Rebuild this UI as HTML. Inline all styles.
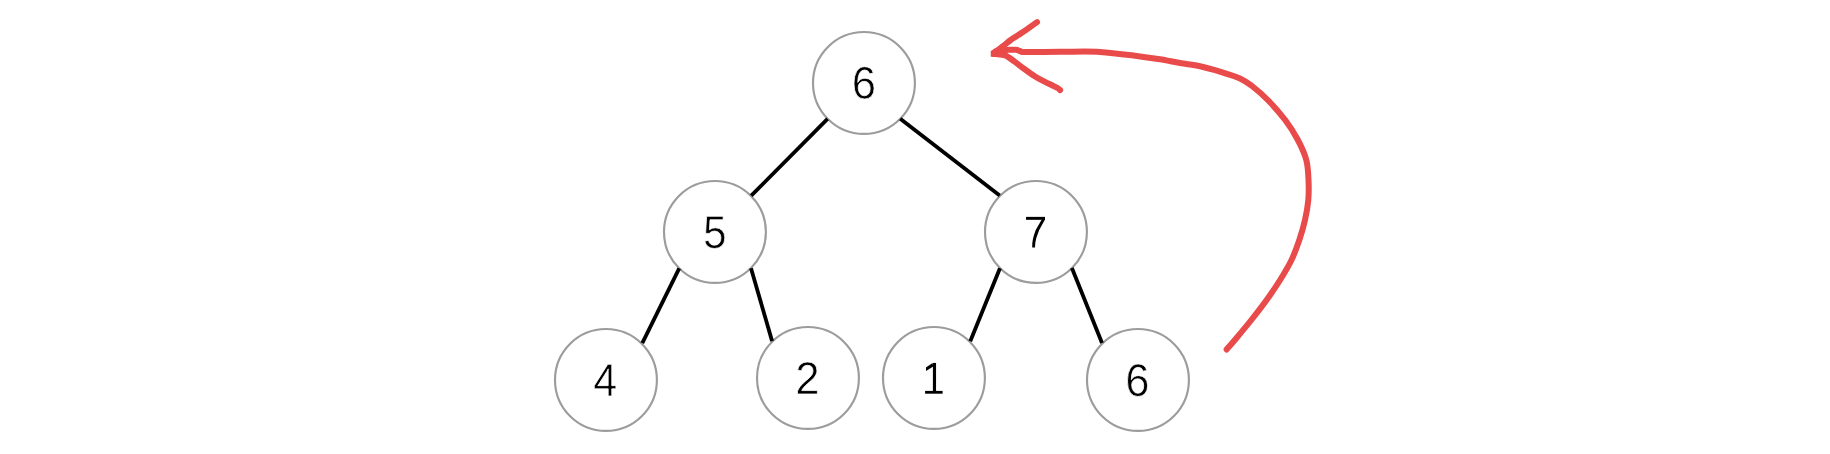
<!DOCTYPE html>
<html><head><meta charset="utf-8"><style>
html,body{margin:0;padding:0;background:#fff;width:1830px;height:454px;overflow:hidden}
svg{display:block}
text{font-family:"Liberation Sans",sans-serif;fill:#000}
</style></head><body>
<svg width="1830" height="454" viewBox="0 0 1830 454">
<circle cx="863.95" cy="82.95" r="50.95" fill="#fff" stroke="#9c9c9c" stroke-width="2.15"/>
<path transform="matrix(0.021270,0,0,-0.022276,851.788,98.554)" d="M1049 461Q1049 238 928.0 109.0Q807 -20 594 -20Q356 -20 230.0 157.0Q104 334 104 672Q104 1038 235.0 1234.0Q366 1430 608 1430Q927 1430 1010 1143L838 1112Q785 1284 606 1284Q452 1284 367.5 1140.5Q283 997 283 725Q332 816 421.0 863.5Q510 911 625 911Q820 911 934.5 789.0Q1049 667 1049 461ZM866 453Q866 606 791.0 689.0Q716 772 582 772Q456 772 378.5 698.5Q301 625 301 496Q301 333 381.5 229.0Q462 125 588 125Q718 125 792.0 212.5Q866 300 866 453Z" fill="#000" stroke="#fff" stroke-width="0.80" vector-effect="non-scaling-stroke"/>
<circle cx="714.95" cy="231.95" r="50.95" fill="#fff" stroke="#9c9c9c" stroke-width="2.15"/>
<path transform="matrix(0.020597,0,0,-0.022533,703.111,248.049)" d="M1053 459Q1053 236 920.5 108.0Q788 -20 553 -20Q356 -20 235.0 66.0Q114 152 82 315L264 336Q321 127 557 127Q702 127 784.0 214.5Q866 302 866 455Q866 588 783.5 670.0Q701 752 561 752Q488 752 425.0 729.0Q362 706 299 651H123L170 1409H971V1256H334L307 809Q424 899 598 899Q806 899 929.5 777.0Q1053 655 1053 459Z" fill="#000" stroke="#fff" stroke-width="0.80" vector-effect="non-scaling-stroke"/>
<circle cx="1035.95" cy="231.95" r="50.95" fill="#fff" stroke="#9c9c9c" stroke-width="2.15"/>
<rect x="1026.05" y="216.88" width="18.95" height="2.95" fill="#000"/><polygon points="1045,216.88 1045,219.6 1039.2,230 1037.2,235.5 1036.1,238.8 1035.3,243 1035,247.6 1032.2,247.6 1032.3,243 1033,238.8 1034,235 1035.7,230 1041.6,219.8" fill="#000"/>
<circle cx="605.95" cy="379.95" r="50.95" fill="#fff" stroke="#9c9c9c" stroke-width="2.15"/>
<path transform="matrix(0.020930,0,0,-0.022498,593.316,396.000)" d="M881 319V0H711V319H47V459L692 1409H881V461H1079V319ZM711 1206Q709 1200 683.0 1153.0Q657 1106 644 1087L283 555L229 481L213 461H711Z" fill="#000" stroke="#fff" stroke-width="0.80" vector-effect="non-scaling-stroke"/>
<circle cx="807.95" cy="377.95" r="50.95" fill="#fff" stroke="#9c9c9c" stroke-width="2.15"/>
<path transform="matrix(0.021329,0,0,-0.022378,795.303,394.000)" d="M103 0V127Q154 244 227.5 333.5Q301 423 382.0 495.5Q463 568 542.5 630.0Q622 692 686.0 754.0Q750 816 789.5 884.0Q829 952 829 1038Q829 1154 761.0 1218.0Q693 1282 572 1282Q457 1282 382.5 1219.5Q308 1157 295 1044L111 1061Q131 1230 254.5 1330.0Q378 1430 572 1430Q785 1430 899.5 1329.5Q1014 1229 1014 1044Q1014 962 976.5 881.0Q939 800 865.0 719.0Q791 638 582 468Q467 374 399.0 298.5Q331 223 301 153H1036V0Z" fill="#000" stroke="#fff" stroke-width="0.80" vector-effect="non-scaling-stroke"/>
<circle cx="933.95" cy="377.95" r="50.95" fill="#fff" stroke="#9c9c9c" stroke-width="2.15"/>
<rect x="932.9" y="362.95" width="3.15" height="30" fill="#000"/><polygon points="932.6,362.95 925.9,367.4 926.1,371.0 933.2,366.6" fill="#000"/><rect x="925.1" y="390.9" width="17.5" height="2.8" fill="#000"/>
<circle cx="1137.95" cy="379.95" r="50.95" fill="#fff" stroke="#9c9c9c" stroke-width="2.15"/>
<path transform="matrix(0.021270,0,0,-0.022414,1125.288,396.052)" d="M1049 461Q1049 238 928.0 109.0Q807 -20 594 -20Q356 -20 230.0 157.0Q104 334 104 672Q104 1038 235.0 1234.0Q366 1430 608 1430Q927 1430 1010 1143L838 1112Q785 1284 606 1284Q452 1284 367.5 1140.5Q283 997 283 725Q332 816 421.0 863.5Q510 911 625 911Q820 911 934.5 789.0Q1049 667 1049 461ZM866 453Q866 606 791.0 689.0Q716 772 582 772Q456 772 378.5 698.5Q301 625 301 496Q301 333 381.5 229.0Q462 125 588 125Q718 125 792.0 212.5Q866 300 866 453Z" fill="#000" stroke="#fff" stroke-width="0.80" vector-effect="non-scaling-stroke"/>
<line x1="827.55" y1="118.95" x2="751.25" y2="195.7" stroke="#000" stroke-width="3.8"/>
<line x1="900.25" y1="118.85" x2="999.7" y2="195.55" stroke="#000" stroke-width="3.8"/>
<line x1="679.2" y1="268.4" x2="642.3" y2="343.05" stroke="#000" stroke-width="3.8"/>
<line x1="751.0" y1="268.25" x2="772.1" y2="341.1" stroke="#000" stroke-width="3.8"/>
<line x1="999.95" y1="268.25" x2="970.25" y2="341.25" stroke="#000" stroke-width="3.8"/>
<line x1="1071.9" y1="268.0" x2="1102.0" y2="343.0" stroke="#000" stroke-width="3.8"/>
<polygon points="990.7,51.2 995,48.2 998,52 997,57 990.8,56.7" fill="#E94A4A"/>
<path d="M994.20,53.00 C995.33,52.83 999.20,52.40 1001.00,52.00 C1002.80,51.60 1003.83,50.97 1005.00,50.60 C1006.17,50.23 1006.17,49.93 1008.00,49.80 C1009.83,49.67 1014.00,49.60 1016.00,49.80 C1018.00,50.00 1018.50,50.65 1020.00,51.00 C1021.50,51.35 1018.33,51.77 1025.00,51.90 C1031.67,52.03 1047.50,51.80 1060.00,51.80 C1072.50,51.80 1086.67,51.13 1100.00,51.90 C1113.33,52.67 1130.00,55.18 1140.00,56.40 C1150.00,57.62 1153.33,58.10 1160.00,59.20 C1166.67,60.30 1173.33,61.83 1180.00,63.00 C1186.67,64.17 1193.33,64.77 1200.00,66.20 C1206.67,67.63 1213.33,69.57 1220.00,71.60 C1226.67,73.63 1234.67,76.00 1240.00,78.40 C1245.33,80.80 1247.37,82.40 1252.00,86.00 C1256.63,89.60 1262.27,94.33 1267.80,100.00 C1273.33,105.67 1280.18,113.33 1285.20,120.00 C1290.22,126.67 1294.38,133.33 1297.90,140.00 C1301.42,146.67 1304.53,153.33 1306.30,160.00 C1308.07,166.67 1308.17,173.33 1308.50,180.00 C1308.83,186.67 1308.88,193.33 1308.30,200.00 C1307.72,206.67 1306.50,213.33 1305.00,220.00 C1303.50,226.67 1301.55,233.33 1299.30,240.00 C1297.05,246.67 1294.70,253.33 1291.50,260.00 C1288.30,266.67 1284.25,273.33 1280.10,280.00 C1275.95,286.67 1271.40,293.33 1266.60,300.00 C1261.80,306.67 1256.60,313.33 1251.30,320.00 C1246.00,326.67 1238.92,335.08 1234.80,340.00 C1230.68,344.92 1227.97,347.92 1226.60,349.50" fill="none" stroke="#E94A4A" stroke-width="6" stroke-linecap="round" stroke-linejoin="round"/>
<path d="M1037.00,22.10 C1035.17,23.42 1029.12,27.85 1026.00,30.00 C1022.88,32.15 1020.86,33.33 1018.30,35.00 C1015.74,36.67 1013.22,38.13 1010.65,40.00 C1008.08,41.87 1005.57,44.10 1002.90,46.20 C1000.23,48.30 995.98,51.53 994.60,52.60" fill="none" stroke="#E94A4A" stroke-width="6" stroke-linecap="round" stroke-linejoin="round"/>
<path d="M994.30,54.00 C995.25,54.10 998.05,54.32 1000.00,54.60 C1001.95,54.88 1003.50,54.48 1006.00,55.70 C1008.50,56.92 1011.87,59.63 1015.00,61.90 C1018.13,64.17 1021.52,66.92 1024.80,69.30 C1028.08,71.68 1031.40,74.13 1034.70,76.20 C1038.00,78.27 1041.72,80.18 1044.60,81.70 C1047.48,83.22 1049.83,84.25 1052.00,85.30 C1054.17,86.35 1056.25,87.20 1057.60,88.00 C1058.95,88.80 1059.68,89.75 1060.10,90.10" fill="none" stroke="#E94A4A" stroke-width="6" stroke-linecap="round" stroke-linejoin="round"/>
</svg>
</body></html>
